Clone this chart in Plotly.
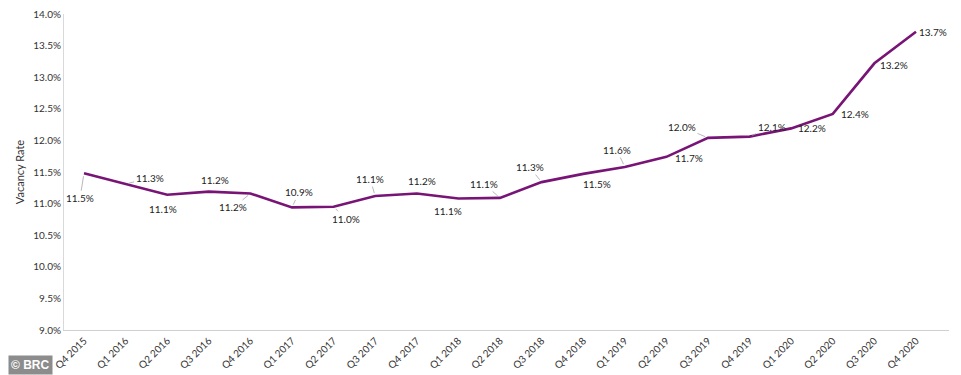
import plotly.graph_objects as go

quarters = ["Q4 2015", "Q1 2016", "Q2 2016", "Q3 2016", "Q4 2016", "Q1 2017", "Q2 2017",
            "Q3 2017", "Q4 2017", "Q1 2018", "Q2 2018", "Q3 2018", "Q4 2018", "Q1 2019",
            "Q2 2019", "Q3 2019", "Q4 2019", "Q1 2020", "Q2 2020", "Q3 2020", "Q4 2020"]
vacancy = [11.48, 11.31, 11.14, 11.19, 11.16, 10.94, 10.95, 11.12, 11.16, 11.08, 11.09,
           11.34, 11.47, 11.58, 11.74, 12.04, 12.06, 12.19, 12.42, 13.22, 13.72]
labels = ["11.5%", "11.3%", "11.1%", "11.2%", "11.2%", "10.9%", "11.0%", "11.1%", "11.2%",
          "11.1%", "11.1%", "11.3%", "11.5%", "11.6%", "11.7%", "12.0%", "12.1%", "12.2%",
          "12.4%", "13.2%", "13.7%"]

# label offsets in pixels (dx, dy) relative to point, and whether to draw a leader line
offsets = [(-4, 25, True), (24, -6, True), (-4, 14, False), (6, -12, False), (-17, 14, True),
           (7, -15, True), (12, 12, True), (-5, -17, True), (5, -12, False), (-10, 12, False),
           (-16, -14, True), (-12, -15, True), (14, 10, False), (-8, -17, True),
           (23, 1, False), (-26, -11, True), (22, -10, True), (21, 0, False),
           (22, 0, False), (20, 2, False), (17, 0, False)]

fig = go.Figure()
fig.add_trace(go.Scatter(x=quarters, y=vacancy, mode="lines",
                         line=dict(color="#781476", width=2.6), hoverinfo="skip"))

for q, v, t, (dx, dy, lead) in zip(quarters, vacancy, labels, offsets):
    if lead:
        fig.add_annotation(x=q, y=v, text=t, showarrow=True, arrowhead=0, arrowwidth=0.8,
                           arrowcolor="#a6a6a6", ax=dx, ay=dy, standoff=3,
                           font=dict(family="Lato", size=10, color="#222"))
    else:
        fig.add_annotation(x=q, y=v, text=t, showarrow=False, xshift=dx, yshift=-dy,
                           font=dict(family="Lato", size=10, color="#222"))

fig.add_annotation(xref="paper", yref="paper", x=-0.0633, y=-0.079, xanchor="left", yanchor="top",
                   text="<b>© BRC</b>", showarrow=False, bgcolor="#8c8c8c",
                   font=dict(family="Liberation Sans", size=12, color="white"), borderpad=2)

fig.update_layout(
    width=953, height=367,
    margin=dict(l=56, r=12, t=6, b=45),
    paper_bgcolor="white", plot_bgcolor="white",
    showlegend=False,
    font=dict(family="Lato", size=10, color="#333"),
    xaxis=dict(type="category", tickangle=-45, showgrid=False, showline=True, automargin=False,
               linecolor="#d0d0d0", linewidth=1, ticks="", tickfont=dict(size=10, color="#333")),
    yaxis=dict(range=[9, 14], dtick=0.5, tickformat=".1f", ticksuffix="%", showgrid=False,
               showline=True, linecolor="#d9d9d9", linewidth=1, zeroline=False, automargin=False,
               ticklabeloverflow="allow",
               title=dict(text="Vacancy Rate", font=dict(size=11, color="#333"), standoff=6),
               tickfont=dict(size=10, color="#333")),
)

fig.write_html("out.html")
